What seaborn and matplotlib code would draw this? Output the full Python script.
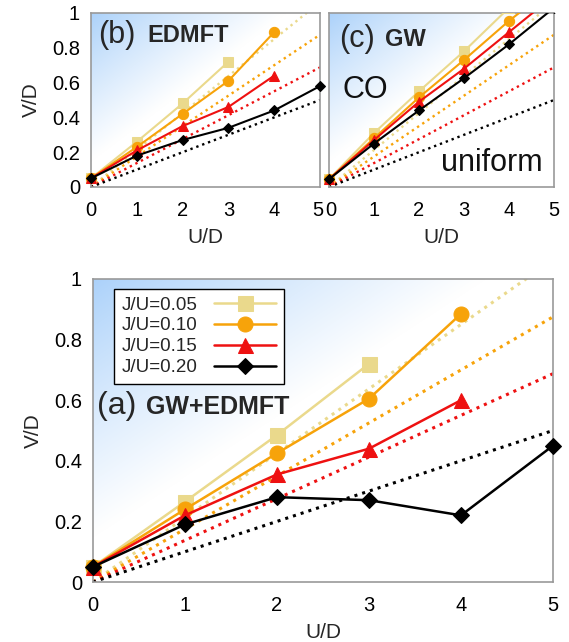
import numpy as np
import pandas as pd
import matplotlib
matplotlib.use("Agg")
import matplotlib.pyplot as plt
import matplotlib.transforms as mtransforms
from matplotlib.patches import Rectangle
import seaborn as sns

sns.set_theme(style="white")
plt.rcParams['font.family'] = ['Liberation Sans', 'DejaVu Sans']

# Hund coupling ratios and their styles
j_labels = ["J/U=0.05", "J/U=0.10", "J/U=0.15", "J/U=0.20"]
colors = ["#ead98c", "#f7a30a", "#ee1111", "#000000"]
markers = ["s", "o", "^", "D"]

# Phase boundaries V/D vs U/D for each method
u_a = [[0, 1, 2, 3], [0, 1, 2, 3, 4], [0, 1, 2, 3, 4], [0, 1, 2, 3, 4, 5]]
v_a = [[0.05, 0.265, 0.485, 0.72],
       [0.05, 0.24, 0.425, 0.605, 0.885],
       [0.05, 0.22, 0.355, 0.44, 0.60],
       [0.05, 0.19, 0.28, 0.27, 0.22, 0.45]]

u_b = [[0, 1, 2, 3], [0, 1, 2, 3, 4], [0, 1, 2, 3, 4], [0, 1, 2, 3, 4, 5]]
v_b = [[0.05, 0.26, 0.48, 0.72],
       [0.05, 0.23, 0.42, 0.61, 0.89],
       [0.05, 0.21, 0.35, 0.46, 0.64],
       [0.05, 0.18, 0.27, 0.34, 0.44, 0.58]]

u_c = [[0, 1, 2, 3, 4], [0, 1, 2, 3, 4, 5], [0, 1, 2, 3, 4, 5], [0, 1, 2, 3, 4, 5]]
v_c = [[0.045, 0.31, 0.55, 0.78, 1.03],
       [0.045, 0.28, 0.515, 0.73, 0.955, 1.155],
       [0.045, 0.27, 0.49, 0.68, 0.89, 1.10],
       [0.045, 0.25, 0.44, 0.625, 0.82, 1.03]]

# Atomic-limit boundaries: straight lines through the origin, value at U/D=5
u_ref = [0, 5]
v_ref_end = [1.0625, 0.875, 0.6875, 0.5]

fig = plt.figure(figsize=(5.69, 6.42), dpi=100)
ax_b = fig.add_axes([91 / 569, 1 - 187 / 642, 229 / 569, 174 / 642])
ax_c = fig.add_axes([329 / 569, 1 - 187 / 642, 225 / 569, 174 / 642])
ax_a = fig.add_axes([93 / 569, 1 - 582 / 642, 460 / 569, 303 / 642])

# Blue corner shading
n = 300
gx, gy = np.meshgrid(np.linspace(0, 1, n), np.linspace(1, 0, n))
d = gx + (1 - gy)
s = np.clip(d / 0.85, 0, 1) ** 0.9
blue = np.array([0.67, 0.82, 0.98])
img = np.ones((n, n, 3)) * s[..., None] + blue * (1 - s[..., None])

TICK = 14.5
LABEL = 15


def style_axes(ax, show_ylabels=True):
    ax.imshow(img, extent=[0, 1, 0, 1], transform=ax.transAxes, aspect="auto",
              zorder=0, interpolation="bilinear")
    ax.set_xlim(0, 5)
    ax.set_ylim(0, 1)
    ax.set_xticks(range(6))
    ax.set_yticks([0, 0.2, 0.4, 0.6, 0.8, 1.0])
    ax.set_yticklabels(["0", "0.2", "0.4", "0.6", "0.8", "1"] if show_ylabels else [])
    ax.tick_params(direction="in", length=4, color="#999999", labelsize=TICK,
                   labelcolor="black")
    ax.tick_params(axis="x", pad=10)
    ax.tick_params(axis="y", pad=8)
    for sp in ax.spines.values():
        sp.set_color("#999999")
        sp.set_linewidth(1.2)
    ax.set_xlabel("U/D", fontsize=LABEL, labelpad=6)


def draw(ax, us, vs, ms, lw, dot_lw, legend=False):
    for k in range(4):
        ref = pd.DataFrame({"U": u_ref, "V": [0, v_ref_end[k]]})
        sns.lineplot(data=ref, x="U", y="V", ax=ax, color=colors[k], linestyle=":",
                     linewidth=dot_lw, zorder=2)
    # data curves may overhang the left/bottom frame, but are cut at the top
    clip = Rectangle((-0.1, -0.1), 1.2, 1.1, transform=ax.transAxes,
                     facecolor="none", edgecolor="none")
    ax.add_patch(clip)
    for k in range(4):
        df = pd.DataFrame({"U": us[k], "V": vs[k]})
        size = ms * (0.72 if markers[k] == "D" else 1.0)
        sns.lineplot(data=df, x="U", y="V", ax=ax, color=colors[k], marker=markers[k],
                     markersize=size, markeredgecolor=colors[k], linewidth=lw,
                     zorder=3 + k, label=j_labels[k] if legend else None)
        ax.lines[-1].set_clip_path(clip)


draw(ax_b, u_b, v_b, 7.4, 1.5, 1.7)
draw(ax_c, u_c, v_c, 7.4, 1.5, 1.7)
draw(ax_a, u_a, v_a, 10.8, 1.8, 2.2, legend=True)

style_axes(ax_b)
style_axes(ax_c, show_ylabels=False)
style_axes(ax_a)
ax_b.set_ylabel("V/D", fontsize=LABEL, labelpad=8)
ax_c.set_ylabel("")
ax_a.set_ylabel("V/D", fontsize=LABEL, labelpad=8)

# The "5" of (b) and the "0" of (c) sit side by side: nudge them apart a little
fig.canvas.draw()
shift_left = mtransforms.ScaledTranslation(-2 / 100, 0, fig.dpi_scale_trans)
shift_right = mtransforms.ScaledTranslation(2 / 100, 0, fig.dpi_scale_trans)
lab_b = ax_b.get_xticklabels()[-1]
lab_b.set_transform(lab_b.get_transform() + shift_left)
lab_c = ax_c.get_xticklabels()[0]
lab_c.set_transform(lab_c.get_transform() + shift_right)

# Panel titles
ax_b.text(0.03, 0.873, "(b)", transform=ax_b.transAxes, fontsize=22, va="center")
ax_b.text(0.245, 0.87, "EDMFT", transform=ax_b.transAxes, fontsize=17,
          fontweight="bold", va="center")
ax_c.text(0.045, 0.853, "(c)", transform=ax_c.transAxes, fontsize=22, va="center")
ax_c.text(0.25, 0.85, "GW", transform=ax_c.transAxes, fontsize=17,
          fontweight="bold", va="center")
ax_c.text(0.062, 0.557, "CO", transform=ax_c.transAxes, fontsize=22, va="center",
          color="#111111")
ax_c.text(0.95, 0.138, "uniform", transform=ax_c.transAxes, fontsize=22,
          va="center", ha="right", color="#111111")
ax_a.text(0.009, 0.582, "(a)", transform=ax_a.transAxes, fontsize=23, va="center")
ax_a.text(0.115, 0.578, "GW+EDMFT", transform=ax_a.transAxes, fontsize=18,
          fontweight="bold", va="center")

leg = ax_a.legend(loc="upper left", bbox_to_anchor=(0.046, 0.967), fontsize=13.5,
                  frameon=True, fancybox=False, handlelength=3.3, borderpad=0.4,
                  labelspacing=0.2, handletextpad=0.9, markerfirst=False,
                  borderaxespad=0)
leg.get_frame().set_edgecolor("black")
leg.get_frame().set_linewidth(1.0)
leg.get_frame().set_facecolor("white")
leg.get_frame().set_alpha(1.0)
leg.set_zorder(10)

fig.savefig("out.png", dpi=100)
